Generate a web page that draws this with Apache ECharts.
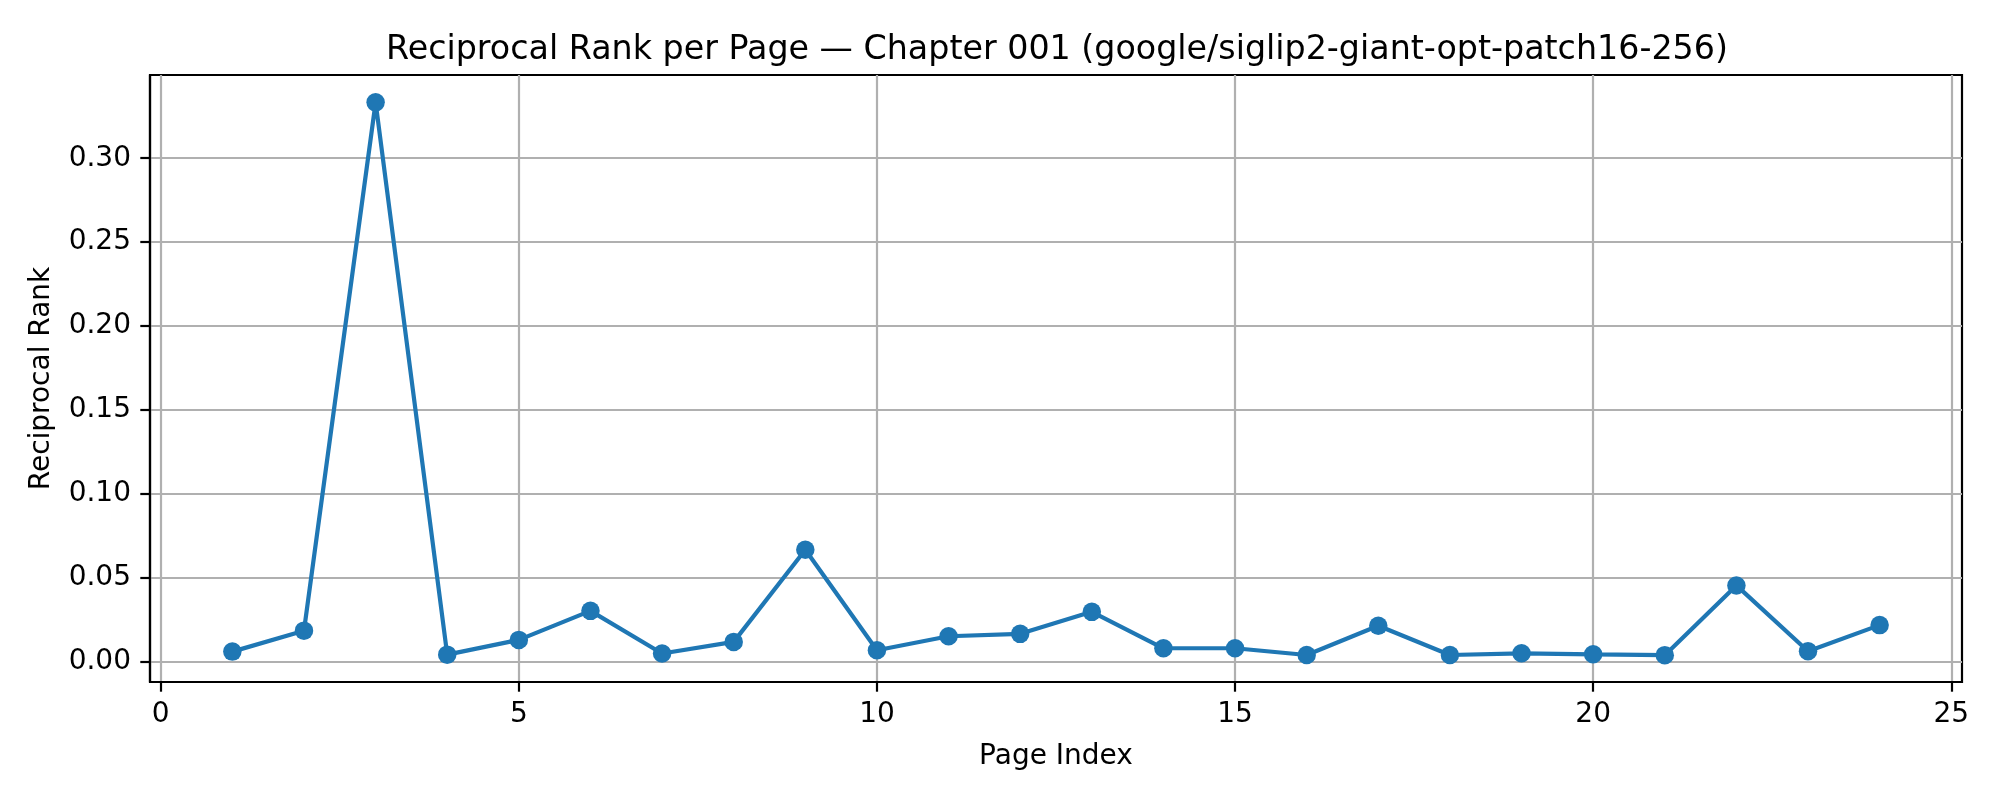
<!DOCTYPE html>
<html>
<head>
<meta charset="utf-8">
<script src="https://cdn.jsdelivr.net/npm/echarts@6/dist/echarts.min.js"></script>
<style>
html,body{margin:0;padding:0;background:#fff;}
#chart{width:2000px;height:800px;}
</style>
</head>
<body>
<div id="chart"></div>
<script>
const pages = [1,2,3,4,5,6,7,8,9,10,11,12,13,14,15,16,17,18,19,20,21,22,23,24];
const reciprocalRank = [0.0060,0.0185,0.3333,0.0042,0.0130,0.0303,0.0049,0.0118,0.0667,0.0068,0.01515,0.0166,0.0297,0.0080,0.0080,0.0040,0.0214,0.0040,0.0050,0.0044,0.0039,0.04545,0.0062,0.0218];
const xTicks = [0,5,10,15,20,25];
const yTicks = [0,0.05,0.10,0.15,0.20,0.25,0.30];
const titleText = 'Reciprocal Rank per Page \u2014 Chapter 001 (google/siglip2-giant-opt-patch16-256)';

const FONT = 'DejaVu Sans';
const chart = echarts.init(document.getElementById('chart'), null, {renderer:'canvas'});
chart.setOption({
  animation:false,
  backgroundColor:'#ffffff',
  title:{
    text:titleText,
    left:1052, top:29, textAlign:'center',
    textStyle:{fontFamily:FONT,fontSize:33.3,fontWeight:'normal',color:'#000'}
  },
  grid:{left:150,top:75,width:1812,height:607,show:true,borderColor:'#000',borderWidth:2.2,containLabel:false},
  xAxis:{
    type:'value', min:-0.15, max:25.15,
    name:'Page Index', nameLocation:'middle', nameGap:61,
    nameTextStyle:{fontFamily:FONT,fontSize:28,color:'#000'},
    axisLine:{show:true,onZero:false,lineStyle:{color:'#000',width:2.2}},
    axisTick:{show:true,length:9.7,lineStyle:{color:'#000',width:2.2},customValues:xTicks},
    axisLabel:{show:true,margin:19,fontFamily:FONT,fontSize:28,color:'#000',customValues:xTicks,formatter:v=>String(Math.round(v))},
    splitLine:{show:true,lineStyle:{color:'#b0b0b0',width:2.2}}
  },
  yAxis:{
    type:'value', min:-0.0121, max:0.3496,
    name:'Reciprocal Rank', nameLocation:'middle', nameGap:94,
    nameTextStyle:{fontFamily:FONT,fontSize:28,color:'#000'},
    axisLine:{show:true,onZero:false,lineStyle:{color:'#000',width:2.2}},
    axisTick:{show:true,length:9.7,lineStyle:{color:'#000',width:2.2},customValues:yTicks},
    axisLabel:{show:true,margin:19,fontFamily:FONT,fontSize:28,color:'#000',customValues:yTicks,formatter:v=>v.toFixed(2)},
    splitLine:{show:true,lineStyle:{color:'#b0b0b0',width:2.2}}
  },
  series:[{
    type:'line',
    data:pages.map((p,i)=>[p,reciprocalRank[i]]),
    symbol:'circle', symbolSize:18.5,
    lineStyle:{color:'#1f77b4',width:4.2},
    itemStyle:{color:'#1f77b4'},
    clip:false
  }]
});
</script>
</body>
</html>
